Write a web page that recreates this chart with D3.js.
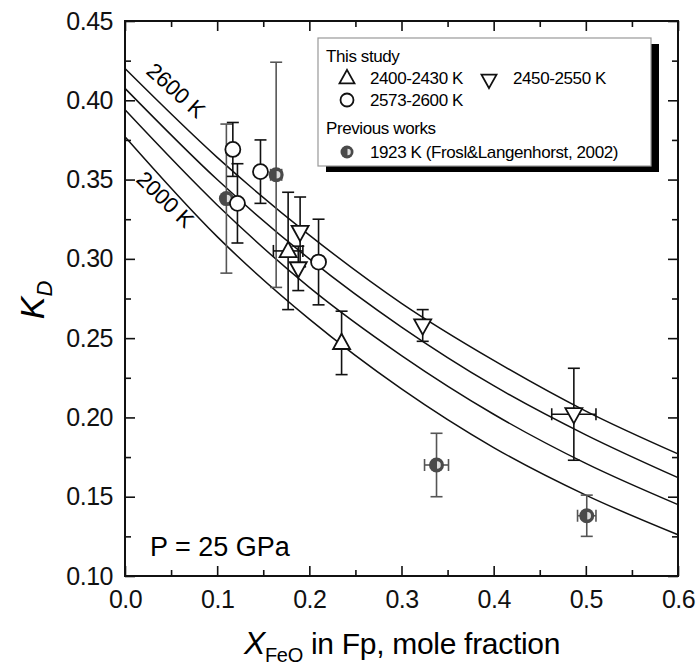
<!DOCTYPE html>
<html>
<head>
<meta charset="utf-8">
<script src="https://cdn.jsdelivr.net/npm/d3@7"></script>
<style>
  body { margin: 0; background: #fff; }
  svg { display: block; font-family: "Liberation Sans", Arial, sans-serif; }
  .tick text { font-size: 25px; fill: #111; letter-spacing: -0.5px; }
</style>
</head>
<body>
<svg id="chart" width="700" height="670"></svg>
<script>
// ticks
var xTicks = [0.0, 0.1, 0.2, 0.3, 0.4, 0.5, 0.6];
var xMinor = [0.05, 0.15, 0.25, 0.35, 0.45, 0.55];
var yTicks = [0.10, 0.15, 0.20, 0.25, 0.30, 0.35, 0.40, 0.45];
var yMinor = [0.125, 0.175, 0.225, 0.275, 0.325, 0.375, 0.425];

// isotherm curves at x = 0 .. 0.6
var curveX = [0.0, 0.1, 0.2, 0.3, 0.4, 0.5, 0.6];
var curve2600 = [0.420, 0.364, 0.315, 0.272, 0.236, 0.204, 0.177];
var curveB = [0.4075, 0.350, 0.300, 0.257, 0.220, 0.189, 0.162];
var curveC = [0.394, 0.334, 0.282, 0.239, 0.202, 0.171, 0.145];
var curve2000 = [0.377, 0.314, 0.262, 0.218, 0.181, 0.151, 0.126];

// 2400-2430 K (up triangles)
var upX = [0.177, 0.235];
var upY = [0.305, 0.247];
var upYerr = [0.037, 0.020];
var upXerr = [0.016, 0];

// 2450-2550 K (down triangles)
var downX = [0.190, 0.188, 0.323, 0.487];
var downY = [0.317, 0.294, 0.258, 0.202];
var downYerr = [0.022, 0.014, 0.010, 0.029];
var downXerr = [0, 0, 0, 0.024];

// 2573-2600 K (circles)
var circX = [0.117, 0.122, 0.147, 0.210];
var circY = [0.369, 0.335, 0.355, 0.298];
var circYerr = [0.017, 0.025, 0.020, 0.027];
var circXerr = [0, 0, 0, 0];

// 1923 K, Frost & Langenhorst 2002 (filled)
var prevX = [0.110, 0.164, 0.338, 0.501];
var prevY = [0.338, 0.353, 0.170, 0.138];
var prevYerr = [0.047, 0.071, 0.020, 0.013];
var prevXerr = [0, 0.006, 0.013, 0.010];

var svg = d3.select("#chart");
var mLeft = 125, mRight = 678, mTop = 21, mBottom = 576;

var x = d3.scaleLinear().domain([0, 0.6]).range([mLeft, mRight]);
var y = d3.scaleLinear().domain([0.10, 0.45]).range([mBottom, mTop]);

// axes: ticks point inward
function styleAxis(g){
  g.select(".domain").remove();
  g.selectAll(".tick line").attr("stroke", "#111").attr("stroke-width", 1.6);
}
svg.append("g").attr("transform", "translate(0," + mBottom + ")")
  .call(d3.axisBottom(x).tickValues(xTicks).tickFormat(d3.format(".1f")).tickSize(-10).tickPadding(14))
  .call(styleAxis);
svg.append("g").attr("transform", "translate(0," + mBottom + ")")
  .call(d3.axisBottom(x).tickValues(xMinor).tickFormat("").tickSize(-6))
  .call(styleAxis);
svg.append("g").attr("transform", "translate(0," + mTop + ")")
  .call(d3.axisTop(x).tickValues(xTicks).tickFormat("").tickSize(-10))
  .call(styleAxis);
svg.append("g").attr("transform", "translate(0," + mTop + ")")
  .call(d3.axisTop(x).tickValues(xMinor).tickFormat("").tickSize(-6))
  .call(styleAxis);
svg.append("g").attr("transform", "translate(" + mLeft + ",0)")
  .call(d3.axisLeft(y).tickValues(yTicks).tickFormat(d3.format(".2f")).tickSize(-10).tickPadding(12))
  .call(styleAxis);
svg.append("g").attr("transform", "translate(" + mLeft + ",0)")
  .call(d3.axisLeft(y).tickValues(yMinor).tickFormat("").tickSize(-6))
  .call(styleAxis);
svg.append("g").attr("transform", "translate(" + mRight + ",0)")
  .call(d3.axisRight(y).tickValues(yTicks).tickFormat("").tickSize(-10))
  .call(styleAxis);
svg.append("g").attr("transform", "translate(" + mRight + ",0)")
  .call(d3.axisRight(y).tickValues(yMinor).tickFormat("").tickSize(-6))
  .call(styleAxis);

svg.append("rect").attr("x", mLeft).attr("y", mTop)
  .attr("width", mRight - mLeft).attr("height", mBottom - mTop)
  .attr("fill", "none").attr("stroke", "#111").attr("stroke-width", 2);

// curves
var line = d3.line().x(function(d){ return x(d[0]); }).y(function(d){ return y(d[1]); }).curve(d3.curveMonotoneX);
[curve2600, curveB, curveC, curve2000].forEach(function(c){
  svg.append("path").datum(d3.zip(curveX, c)).attr("d", line)
    .attr("fill", "none").attr("stroke", "#111").attr("stroke-width", 1.5);
});

svg.append("text").attr("transform", "translate(171,96) rotate(42)")
  .attr("text-anchor", "middle").attr("font-size", 22).text("2600 K");
svg.append("text").attr("transform", "translate(160,205) rotate(44)")
  .attr("text-anchor", "middle").attr("font-size", 22).text("2000 K");

// error bars
function errorBars(xs, ys, yerr, xerr, color){
  var g = svg.append("g").attr("stroke", color).attr("stroke-width", 1.6);
  var cap = 6;
  xs.forEach(function(xv, i){
    var cx = x(xv), cy = y(ys[i]);
    if (yerr[i] > 0) {
      var y1 = y(ys[i] + yerr[i]), y2 = y(ys[i] - yerr[i]);
      g.append("line").attr("x1", cx).attr("x2", cx).attr("y1", y1).attr("y2", y2);
      g.append("line").attr("x1", cx - cap).attr("x2", cx + cap).attr("y1", y1).attr("y2", y1);
      g.append("line").attr("x1", cx - cap).attr("x2", cx + cap).attr("y1", y2).attr("y2", y2);
    }
    if (xerr[i] > 0) {
      var x1 = x(xv - xerr[i]), x2 = x(xv + xerr[i]);
      g.append("line").attr("x1", x1).attr("x2", x2).attr("y1", cy).attr("y2", cy);
      g.append("line").attr("x1", x1).attr("x2", x1).attr("y1", cy - cap).attr("y2", cy + cap);
      g.append("line").attr("x1", x2).attr("x2", x2).attr("y1", cy - cap).attr("y2", cy + cap);
    }
  });
}
errorBars(prevX, prevY, prevYerr, prevXerr, "#555");
errorBars(circX, circY, circYerr, circXerr, "#111");
errorBars(upX, upY, upYerr, upXerr, "#111");
errorBars(downX, downY, downYerr, downXerr, "#111");

// markers
function triangle(g, cx, cy, s, down){
  var h = s * 0.9, d = down ? -1 : 1;
  g.append("path")
    .attr("d", "M" + cx + "," + (cy - d * h * 0.6) + "L" + (cx + s / 2) + "," + (cy + d * h * 0.4) +
      "L" + (cx - s / 2) + "," + (cy + d * h * 0.4) + "Z")
    .attr("fill", "#fff").attr("stroke", "#111").attr("stroke-width", 1.8);
}
function circle(g, cx, cy, r){
  g.append("circle").attr("cx", cx).attr("cy", cy).attr("r", r)
    .attr("fill", "#fff").attr("stroke", "#111").attr("stroke-width", 1.8);
}
function halfDot(g, cx, cy, r){
  g.append("circle").attr("cx", cx).attr("cy", cy).attr("r", r).attr("fill", "#4a4a4a");
  var ri = r * 0.5;
  g.append("path")
    .attr("d", "M" + (cx + 0.5) + "," + (cy - ri) + "A" + ri + "," + ri + " 0 0 1 " + (cx + 0.5) + "," + (cy + ri) + "Z")
    .attr("fill", "#ddd");
}
var marks = svg.append("g");
prevX.forEach(function(v, i){ halfDot(marks, x(v), y(prevY[i]), 7.5); });
circX.forEach(function(v, i){ circle(marks, x(v), y(circY[i]), 7.5); });
upX.forEach(function(v, i){ triangle(marks, x(v), y(upY[i]), 17, false); });
downX.forEach(function(v, i){ triangle(marks, x(v), y(downY[i]), 17, true); });

// legend
var lg = svg.append("g");
lg.append("rect").attr("x", 326).attr("y", 44).attr("width", 333).attr("height", 128).attr("fill", "#000");
lg.append("rect").attr("x", 318).attr("y", 38).attr("width", 333).attr("height", 128)
  .attr("fill", "#fff").attr("stroke", "#999").attr("stroke-width", 1.2);
var legendText = ["This study", "2400-2430 K", "2450-2550 K", "2573-2600 K", "Previous works", "1923 K (Frosl&Langenhorst, 2002)"];
var legendPos = [[326, 62], [370, 84], [513, 84], [370, 106], [326, 134], [370, 158]];
legendText.forEach(function(t, i){
  lg.append("text").attr("x", legendPos[i][0]).attr("y", legendPos[i][1])
    .attr("font-size", 17).attr("letter-spacing", -0.4).text(t);
});
triangle(lg, 347, 78, 15, false);
triangle(lg, 489, 80, 15, true);
circle(lg, 347, 100, 6.5);
halfDot(lg, 347, 152, 6.5);

// annotation and titles
svg.append("text").attr("x", 150).attr("y", 556).attr("font-size", 27).text("P = 25 GPa");

var xt = svg.append("text").attr("x", 402).attr("y", 654).attr("text-anchor", "middle").attr("font-size", 30).attr("letter-spacing", -0.3);
xt.append("tspan").attr("font-style", "italic").attr("font-size", 32).text("X");
xt.append("tspan").attr("font-size", 20).attr("dy", 8).text("FeO");
xt.append("tspan").attr("dy", -8).text(" in Fp, mole fraction");

var yt = svg.append("text").attr("transform", "translate(44,300) rotate(-90)").attr("text-anchor", "middle").attr("font-size", 34);
yt.append("tspan").attr("font-style", "italic").text("K");
yt.append("tspan").attr("font-style", "italic").attr("font-size", 22).attr("dy", 8).text("D");
</script>
</body>
</html>
